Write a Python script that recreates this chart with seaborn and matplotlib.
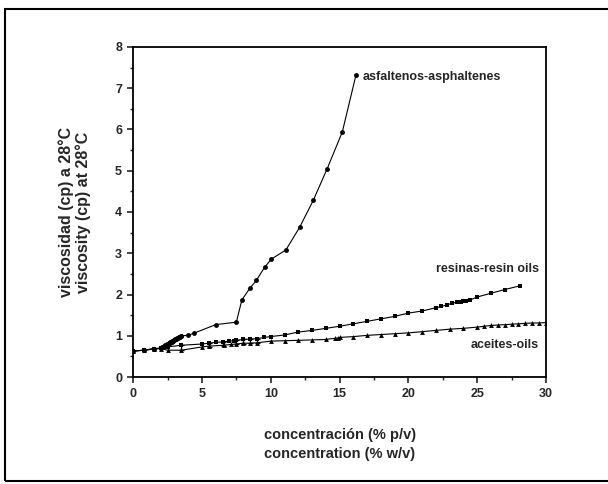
import matplotlib
matplotlib.use("Agg")

import matplotlib.pyplot as plt
import pandas as pd
import seaborn as sns
from matplotlib.patches import Rectangle
from matplotlib.ticker import MultipleLocator

# asfaltenos / asphaltenes (dense run of readings between 2 and 3.5 %)
asph_x = [0, 0.8, 1.5, 2.0, 2.05, 2.1, 2.15, 2.2, 2.25, 2.3, 2.35, 2.4, 2.45, 2.5, 2.55,
          2.6, 2.65, 2.7, 2.75, 2.8, 2.85, 2.9, 2.95, 3.0, 3.05, 3.1, 3.15, 3.2, 3.25,
          3.3, 3.35, 3.4, 3.45, 3.5, 4.0, 4.4, 6.0, 7.5, 7.9, 8.5, 8.95, 9.55, 10.05,
          11.1, 12.1, 13.1, 14.1, 15.2, 16.2]
asph_y = [0.63, 0.65, 0.69, 0.70, 0.71, 0.72, 0.73, 0.74, 0.75, 0.76, 0.77, 0.78, 0.79,
          0.80, 0.81, 0.82, 0.83, 0.84, 0.85, 0.86, 0.87, 0.88, 0.89, 0.90, 0.91, 0.92,
          0.93, 0.94, 0.95, 0.96, 0.97, 0.98, 0.99, 1.00, 1.01, 1.06, 1.27, 1.33, 1.87,
          2.16, 2.34, 2.66, 2.86, 3.08, 3.63, 4.29, 5.05, 5.94, 7.33]

# resinas / resin oils
resin_x = [0, 0.8, 1.5, 2.0, 2.5, 3.5, 5.0, 5.5, 6.0, 6.5, 7.0, 7.3, 7.5, 8.0, 8.5, 9.0,
           9.5, 10.0, 11.0, 12, 13, 14, 15, 16, 17, 18, 19, 20, 21, 22, 22.4, 22.8, 23.2,
           23.5, 23.8, 24.0, 24.2, 24.5, 25, 26, 27, 28.1]
resin_y = [0.63, 0.65, 0.68, 0.70, 0.73, 0.77, 0.80, 0.82, 0.84, 0.85, 0.87, 0.88, 0.89,
           0.91, 0.92, 0.93, 0.96, 0.98, 1.02, 1.09, 1.13, 1.18, 1.23, 1.29, 1.35, 1.41,
           1.47, 1.55, 1.60, 1.68, 1.71, 1.75, 1.79, 1.81, 1.83, 1.84, 1.85, 1.87, 1.94,
           2.03, 2.12, 2.21]

# aceites / oils
oil_x = [0, 0.8, 1.5, 2.0, 2.5, 3.5, 5.0, 5.5, 6.6, 7.1, 7.5, 8.0, 8.5, 9.0, 10, 11, 12,
         13, 14, 14.7, 14.9, 15, 16, 17, 18, 19, 20, 21, 22, 23, 24, 25, 25.5, 26, 26.5,
         27, 27.5, 28, 28.5, 29, 29.5, 30]
oil_y = [0.63, 0.65, 0.68, 0.69, 0.65, 0.65, 0.73, 0.75, 0.77, 0.79, 0.80, 0.82, 0.82,
         0.83, 0.87, 0.88, 0.89, 0.90, 0.91, 0.94, 0.95, 0.96, 0.98, 1.01, 1.03, 1.05,
         1.07, 1.10, 1.13, 1.16, 1.18, 1.21, 1.23, 1.25, 1.26, 1.27, 1.28, 1.29, 1.30,
         1.31, 1.31, 1.32]

# small error bars seen on the resin curve at low concentration
err_x = [3.5, 5.5, 6.5, 7.5, 8.0, 8.5, 9.0]
err_y = [0.72, 0.78, 0.81, 0.84, 0.86, 0.87, 0.88]
err_h = [0.06, 0.05, 0.05, 0.05, 0.05, 0.05, 0.05]

sns.set_theme(style="white")
plt.rcParams["font.family"] = ["Liberation Sans", "DejaVu Sans"]

fig = plt.figure(figsize=(6.08, 4.84), dpi=100)
ax = fig.add_axes([0.219, 0.221, 0.679, 0.682])

series = [
    (asph_x, asph_y, "o", 3.5),
    (resin_x, resin_y, "s", 3.0),
    (oil_x, oil_y, "^", 3.5),
]
for xs, ys, mk, ms in series:
    df = pd.DataFrame({"x": xs, "y": ys})
    sns.lineplot(data=df, x="x", y="y", sort=False, color="black", lw=0.8,
                 marker=mk, markersize=ms, markeredgewidth=0, ax=ax)

ax.errorbar(err_x, err_y, yerr=err_h, fmt="none", ecolor="black", elinewidth=1.0,
            capsize=1.8, capthick=1.0)

ax.set_xlim(0, 30)
ax.set_ylim(0, 8)
ax.xaxis.set_major_locator(MultipleLocator(5))
ax.xaxis.set_minor_locator(MultipleLocator(2.5))
ax.yaxis.set_major_locator(MultipleLocator(1))
ax.yaxis.set_minor_locator(MultipleLocator(0.5))
ax.tick_params(which="major", direction="out", length=4, width=1.2, bottom=True, left=True,
               labelsize=9, pad=4)
ax.tick_params(which="minor", direction="out", length=2.5, width=1.0, bottom=True, left=True)
for lab in ax.get_xticklabels() + ax.get_yticklabels():
    lab.set_fontweight("bold")
for sp in ax.spines.values():
    sp.set_color("black")
    sp.set_linewidth(1.3)

ax.set_xlabel("concentración (% p/v)\nconcentration (% w/v)", fontsize=10.5,
              fontweight="bold", labelpad=20, linespacing=1.45)
ax.set_ylabel("viscosidad (cp) a 28°C\nviscosity (cp) at 28°C", fontsize=11.5,
              fontweight="bold", linespacing=1.05)
ax.yaxis.set_label_coords(-0.103, 0.5)

ax.text(16.7, 7.28, "asfaltenos-asphaltenes", fontsize=9, fontweight="bold",
        va="center", ha="left")
ax.text(29.5, 2.62, "resinas-resin oils", fontsize=9, fontweight="bold",
        va="center", ha="right")
ax.text(29.5, 0.77, "aceites-oils", fontsize=9, fontweight="bold",
        va="center", ha="right")

# outer frame of the scanned figure
fig.patches.append(Rectangle((0.009, 0.006), 1.2, 0.976, transform=fig.transFigure,
                             fill=False, edgecolor="black", lw=1.5))

fig.savefig("out.png", dpi=100)
plt.close(fig)
